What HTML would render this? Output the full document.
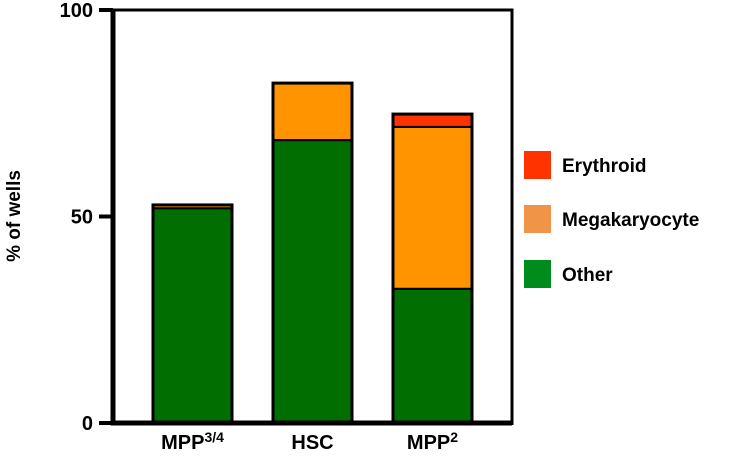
<!DOCTYPE html>
<html><head><meta charset="utf-8"><style>
body{margin:0;background:#fff;width:729px;height:456px;overflow:hidden;font-family:"Liberation Sans",Arial,sans-serif}
text{font-family:"Liberation Sans",Arial,sans-serif;font-weight:bold}
</style></head><body>
<svg width="729" height="456">
<g id="plot"></g>
<text transform="translate(20,216) rotate(-90)" text-anchor="middle" font-size="19">% of wells</text>
<g>
<rect x="524" y="151" width="27" height="28" fill="#FF3300"/>
<text x="562" y="172" font-size="19">Erythroid</text>
<rect x="524" y="205" width="27" height="28" fill="#F09448"/>
<text x="562" y="226" font-size="19">Megakaryocyte</text>
<rect x="524" y="260" width="27" height="28" fill="#008C1C"/>
<text x="562" y="281" font-size="19">Other</text>
</g>
</svg>
<script>
const categories=["MPP3/4","HSC","MPP2"];
const other=[52,68.5,32.5];
const megakaryocyte=[0.8,13.8,39.2];
const erythroid=[0,0,3.1];
const yTicks=[0,50,100];

const NS="http://www.w3.org/2000/svg";
const g=document.getElementById('plot');
const y=v=>423-v*4.13;
const x=i=>153+i*120;
const bw=79;
function mk(t,a){const e=document.createElementNS(NS,t);for(const k in a)e.setAttribute(k,a[k]);g.appendChild(e);return e;}
const series=[[other,"#006E00","other"],[megakaryocyte,"#FF9400","megakaryocyte"],[erythroid,"#FF3300","erythroid"]];
categories.forEach((c,i)=>{
  let base=0;
  series.forEach(([arr,col,nm])=>{
    const v=arr[i]; if(v<=0)return;
    const r=mk('rect',{x:x(i),y:y(base+v),width:bw,height:y(base)-y(base+v),fill:col,stroke:'#000','stroke-width':2});
    
    
    base+=v;
  });
  const o=mk('rect',{x:x(i),y:y(base),width:bw,height:y(0)-y(base),fill:'none',stroke:'#000','stroke-width':3});
  
  
  const t=mk('text',{x:x(i)+bw/2,y:449,'text-anchor':'middle','font-size':20});
  
  
  const m=c.match(/^(MPP)(.*)$/);
  if(m){t.textContent=m[1];const s=document.createElementNS(NS,'tspan');s.setAttribute('dy','-7');s.setAttribute('font-size','14');s.textContent=m[2];t.appendChild(s);}
  else t.textContent=c;
});
const frame=mk('path',{d:'M113 10 H512 V425',fill:'none',stroke:'#000','stroke-width':3});


const ax=mk('path',{d:'M113 9 V423 H512',fill:'none',stroke:'#000','stroke-width':5});


yTicks.forEach(v=>{
  const l=mk('line',{x1:99,x2:113,y1:y(v),y2:y(v),stroke:'#000','stroke-width':4});
  
  
  const t=mk('text',{x:93,y:y(v)+7,'text-anchor':'end','font-size':20});
  
  
  t.textContent=v;
});
</script>
</body></html>
